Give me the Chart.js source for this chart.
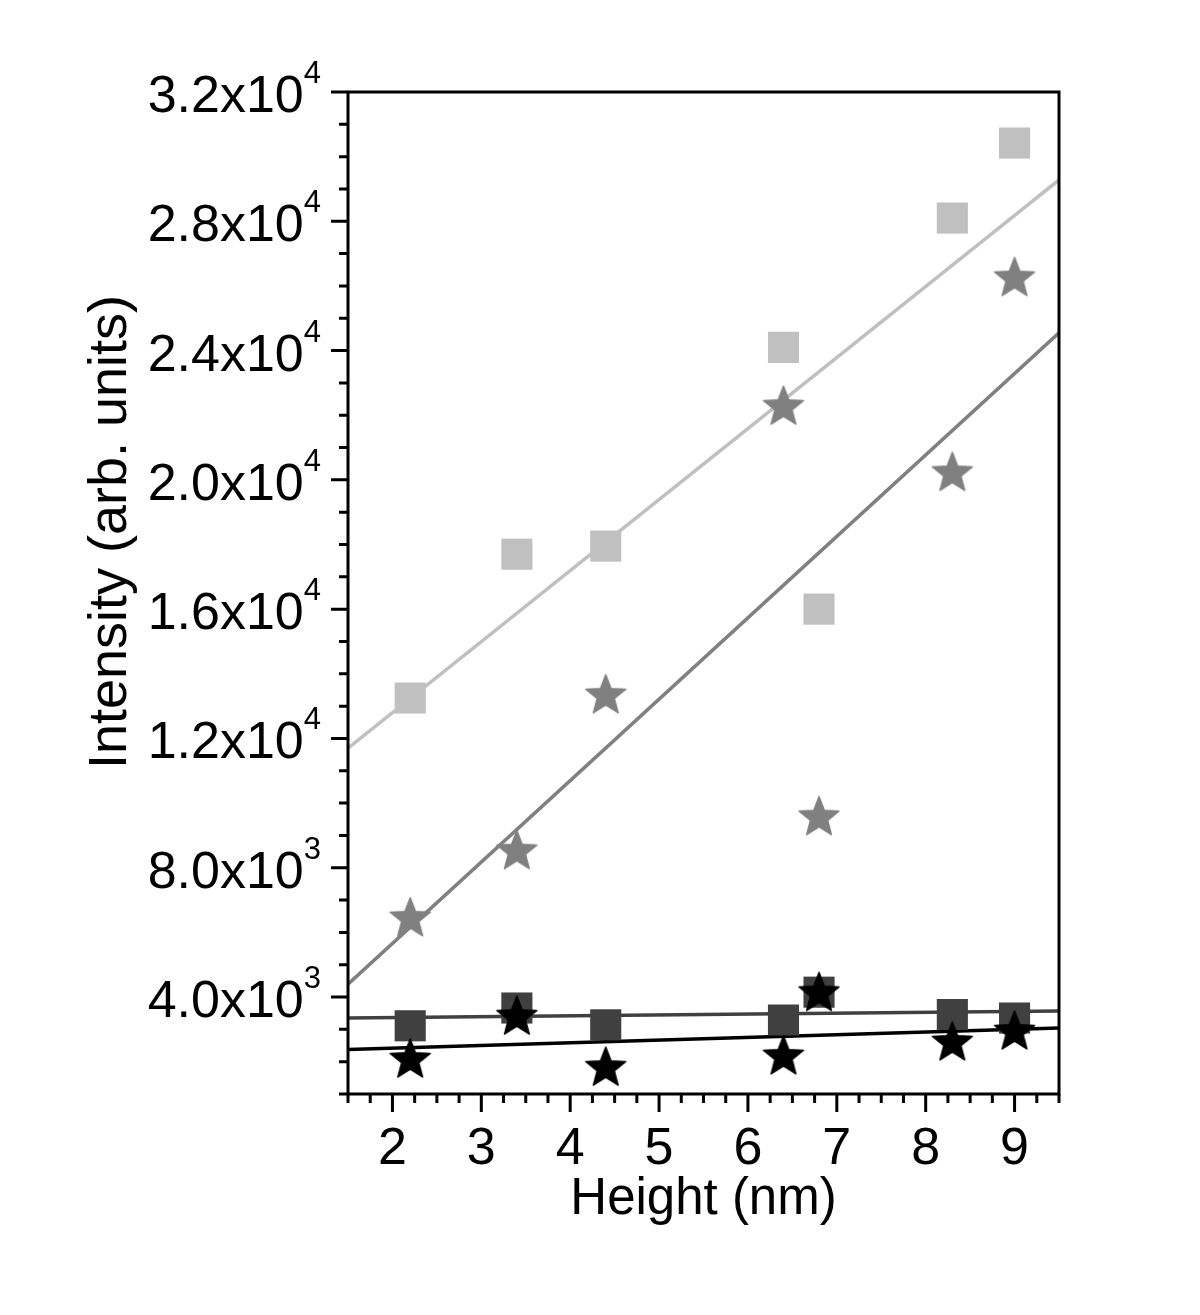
<!DOCTYPE html>
<html>
<head>
<meta charset="utf-8">
<script src="https://cdn.jsdelivr.net/npm/chart.js@4.4.1/dist/chart.umd.min.js"></script>
<style>
  html, body { margin: 0; padding: 0; background: #fff; }
  #wrap { width: 1200px; height: 1315px; position: relative; }
</style>
</head>
<body>
<div id="wrap"><canvas id="chart"></canvas></div>
<script>
// measured points (height in nm, intensity in arb. units)
const heights = [2.2, 3.4, 4.4, 6.4, 6.8, 8.3, 9.0];
const lightSquares = [13250, 17700, 17950, 24100, 16000, 28100, 30420];
const greyStars = [6420, 8500, 13320, 22250, 9550, 20200, 26230];
const darkSquares = [3110, 3660, 3140, 3290, 4150, 3460, 3350];
const blackStars = [2050, 3380, 1800, 2150, 4110, 2580, 2920];

// linear fits, end points at the axis limits
const fitX = [1.5, 9.5];
const lightFit = [11700, 29280];
const greyFit = [4400, 24550];
const darkFit = [3350, 3570];
const blackFit = [2380, 3045];

const xMajorTicks = [2, 3, 4, 5, 6, 7, 8, 9];
const yMajorTicks = [4000, 8000, 12000, 16000, 20000, 24000, 28000, 32000];
const yTickMantissa = ['4.0', '8.0', '1.2', '1.6', '2.0', '2.4', '2.8', '3.2'];
const yTickExponent = ['3', '3', '4', '4', '4', '4', '4', '4'];

const FONT = '"Liberation Sans", Arial, Helvetica, sans-serif';

function makeStar(color) {
  const c = document.createElement('canvas');
  c.width = 50; c.height = 50;
  const g = c.getContext('2d');
  const R = 21, r = 9;
  g.beginPath();
  for (let i = 0; i < 10; i++) {
    const rad = i % 2 === 0 ? R : r;
    const a = -Math.PI / 2 + i * Math.PI / 5;
    const px = 25 + rad * Math.cos(a), py = 25 + rad * Math.sin(a);
    if (i === 0) g.moveTo(px, py); else g.lineTo(px, py);
  }
  g.closePath();
  g.fillStyle = color;
  g.strokeStyle = color;
  g.lineJoin = 'round';
  g.lineWidth = 1.5;
  g.fill();
  g.stroke();
  return c;
}

const pts = (ys) => heights.map((h, i) => ({ x: h, y: ys[i] }));
const fit = (ys) => fitX.map((h, i) => ({ x: h, y: ys[i] }));

function pointSet(data, color, style) {
  return {
    data: pts(data),
    showLine: false,
    pointStyle: style,
    pointRadius: 22,
    pointHoverRadius: 22,
    pointBackgroundColor: color,
    pointBorderColor: color,
    pointBorderWidth: 0
  };
}

function lineSet(data, color) {
  return {
    data: fit(data),
    showLine: true,
    borderColor: color,
    borderWidth: 3.5,
    pointRadius: 0,
    fill: false
  };
}

const axesPlugin = {
  id: 'axesPlugin',
  afterDraw(chart) {
    const { ctx, chartArea: a, scales: { x, y } } = chart;
    ctx.save();
    ctx.strokeStyle = '#000';
    ctx.lineWidth = 3;
    ctx.beginPath();
    ctx.rect(a.left, a.top, a.right - a.left, a.bottom - a.top);
    ctx.stroke();

    // x ticks, minor every 0.25
    ctx.beginPath();
    for (let v = x.min; v <= x.max + 1e-6; v += 0.25) {
      const px = x.getPixelForValue(v);
      const major = Math.abs(v - Math.round(v)) < 1e-6;
      ctx.moveTo(px, a.bottom);
      ctx.lineTo(px, a.bottom + (major ? 18 : 9));
    }
    // y ticks, minor every 1000
    for (let v = y.min; v <= y.max + 1e-6; v += 1000) {
      const py = y.getPixelForValue(v);
      const major = v % 4000 === 0;
      ctx.moveTo(a.left, py);
      ctx.lineTo(a.left - (major ? 17 : 9), py);
    }
    ctx.stroke();

    ctx.fillStyle = '#000';
    ctx.font = '52px ' + FONT;
    ctx.textAlign = 'center';
    ctx.textBaseline = 'alphabetic';
    xMajorTicks.forEach(v => {
      ctx.fillText(String(v), x.getPixelForValue(v), a.bottom + 70);
    });

    yMajorTicks.forEach((v, i) => {
      const py = y.getPixelForValue(v);
      const right = a.left - 27;
      ctx.font = '31px ' + FONT;
      ctx.textAlign = 'right';
      const supW = ctx.measureText(yTickExponent[i]).width;
      ctx.fillText(yTickExponent[i], right, py - 9);
      ctx.font = '52px ' + FONT;
      ctx.fillText(yTickMantissa[i] + 'x10', right - supW, py + 20);
    });

    ctx.textAlign = 'center';
    ctx.font = '51px ' + FONT;
    ctx.fillText('Height (nm)', (a.left + a.right) / 2, a.bottom + 120);

    ctx.save();
    ctx.translate(126, 532);
    ctx.rotate(-Math.PI / 2);
    ctx.font = '54px ' + FONT;
    ctx.fillText('Intensity (arb. units)', 0, 0);
    ctx.restore();
    ctx.restore();
  }
};

new Chart(document.getElementById('chart'), {
  type: 'scatter',
  data: {
    datasets: [
      pointSet(blackStars, '#000000', makeStar('#000000')),
      pointSet(darkSquares, '#404040', 'rect'),
      pointSet(greyStars, '#808080', makeStar('#808080')),
      pointSet(lightSquares, '#c0c0c0', 'rect'),
      lineSet(blackFit, '#000000'),
      lineSet(darkFit, '#404040'),
      lineSet(greyFit, '#808080'),
      lineSet(lightFit, '#c0c0c0')
    ]
  },
  options: {
    responsive: true,
    maintainAspectRatio: false,
    animation: false,
    layout: { padding: { left: 348, right: 141, top: 92, bottom: 221 } },
    plugins: { legend: { display: false }, tooltip: { enabled: false } },
    scales: {
      x: { type: 'linear', min: 1.5, max: 9.5, display: false },
      y: { type: 'linear', min: 1000, max: 32000, display: false }
    }
  },
  plugins: [axesPlugin]
});
</script>
</body>
</html>
